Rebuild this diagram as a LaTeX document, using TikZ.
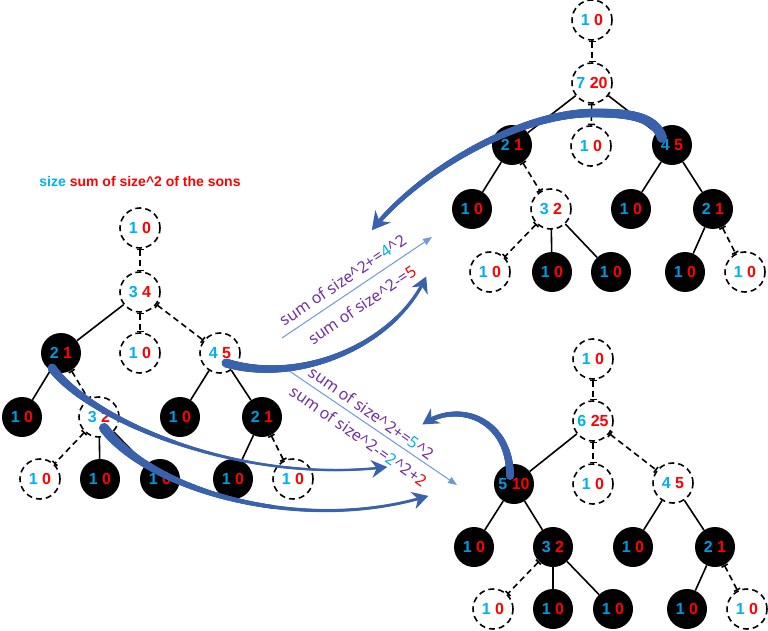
\documentclass[tikz,border=0pt]{standalone}
\usepackage{fontspec}
\setmainfont{Noto Sans}
\newfontfamily\nf{Liberation Sans}
\usetikzlibrary{arrows.meta,decorations.markings}
\definecolor{cy}{HTML}{00B0F0}
\definecolor{cyd}{HTML}{0099DD}
\definecolor{rd}{HTML}{FF0000}
\definecolor{pu}{HTML}{7030A0}
\definecolor{ab}{HTML}{3A62AC}
\definecolor{lb}{HTML}{7099DA}
\newcommand\wt[2]{\textcolor{cy}{#1} \textcolor{rd}{#2}}
\newcommand\bt[2]{\textcolor{cyd}{#1} \textcolor{rd}{#2}}
\newcommand\crt{\textasciicircum}
\tikzset{
  nfont/.style={font=\nf\fontsize{16}{18}\selectfont\bfseries},
  wn/.style={circle,draw=black,line width=1.6pt,dash pattern=on 6pt off 4pt,fill=white,minimum size=40pt,inner sep=0pt,nfont},
  bn/.style={circle,fill=black,minimum size=40pt,inner sep=0pt,nfont},
  se/.style={draw=black,line width=1.6pt},
  de/.style={draw=black,line width=1.6pt,dash pattern=on 6pt off 4pt,{Bar[width=7pt]}-{Bar[width=7pt]}},
  lbl/.style={text=pu,font=\fontsize{16}{18}\selectfont,inner sep=0pt},
  thinarr/.style={draw=lb,line width=1pt,-{Triangle[length=9pt,width=7pt]}},
  taper/.style n args={5}{postaction={decorate,decoration={markings,
    mark=between positions 0 and -8pt step 0.6pt with {%
      \pgfmathsetmacro\tr{#2+(#1-#2)*(1-\pgfkeysvalueof{/pgf/decoration/mark info/distance from start}/\pgfdecoratedpathlength)^#5}%
      \fill[ab] (0,0) circle[radius=\tr pt];}}},
    postaction={decorate,decoration={markings,
    mark=at position 0.998 with {%
      \fill[ab] (1pt,0pt) -- (-#3pt,#4pt) -- (-0.65*#3pt,0pt) -- (-#3pt,-#4pt) -- cycle;}}}}
}
\begin{document}
\begin{tikzpicture}[x=1pt,y=-1pt]
\useasboundingbox (0,0) rectangle (768,631);
% title
\node[font=\nf\fontsize{14}{16}\selectfont\bfseries] (title) at (140,181) {\textcolor{cy}{size} \textcolor{rd}{sum of size\crt2 of the sons}};
% left tree
\node[wn] (L0) at (140,228) {\wt{1}{0}};
\node[wn] (L1) at (140,292) {\wt{3}{4}};
\node[bn] (L2) at (61,353) {\bt{2}{1}};
\node[wn] (L3) at (140,353) {\wt{1}{0}};
\node[wn] (L4) at (220,353) {\wt{4}{5}};
\node[bn] (L5) at (22,417) {\bt{1}{0}};
\node[wn] (L6) at (99,417) {\wt{3}{2}};
\node[bn] (L7) at (180,417) {\bt{1}{0}};
\node[bn] (L8) at (262,417) {\bt{2}{1}};
\node[wn] (L9) at (40,479) {\wt{1}{0}};
\node[bn] (L10) at (100,479) {\bt{1}{0}};
\node[bn] (L11) at (160,479) {\bt{1}{0}};
\node[bn] (L12) at (233,479) {\bt{1}{0}};
\node[wn] (L13) at (293,479) {\wt{1}{0}};
\draw[de] (L0) -- (L1);
\draw[se] (L1) -- (L2);
\draw[de] (L1) -- (L3);
\draw[de] (L1) -- (L4);
\draw[se] (L2) -- (L5);
\draw[de] (L2) -- (L6);
\draw[se] (L4) -- (L7);
\draw[se] (L4) -- (L8);
\draw[de] (L6) -- (L9);
\draw[se] (L6) -- (L10);
\draw[se] (L6) -- (L11);
\draw[se] (L8) -- (L12);
\draw[de] (L8) -- (L13);
% top tree
\node[wn] (T0) at (592,20) {\wt{1}{0}};
\node[wn] (T1) at (592,83) {\wt{7}{20}};
\node[bn] (T2) at (512,145) {\bt{2}{1}};
\node[wn] (T3) at (591,146) {\wt{1}{0}};
\node[bn] (T4) at (672,145) {\bt{4}{5}};
\node[bn] (T5) at (472,209) {\bt{1}{0}};
\node[wn] (T6) at (551,209) {\wt{3}{2}};
\node[bn] (T7) at (631,209) {\bt{1}{0}};
\node[bn] (T8) at (713,209) {\bt{2}{1}};
\node[wn] (T9) at (490,272) {\wt{1}{0}};
\node[bn] (T10) at (552,272) {\bt{1}{0}};
\node[bn] (T11) at (611,272) {\bt{1}{0}};
\node[bn] (T12) at (685,272) {\bt{1}{0}};
\node[wn] (T13) at (745,272) {\wt{1}{0}};
\draw[de] (T0) -- (T1);
\draw[se] (T1) -- (T2);
\draw[de] (T1) -- (T3);
\draw[se] (T1) -- (T4);
\draw[se] (T2) -- (T5);
\draw[de] (T2) -- (T6);
\draw[se] (T4) -- (T7);
\draw[se] (T4) -- (T8);
\draw[de] (T6) -- (T9);
\draw[se] (T6) -- (T10);
\draw[se] (T6) -- (T11);
\draw[se] (T8) -- (T12);
\draw[de] (T8) -- (T13);
% bottom tree
\node[wn] (B0) at (593,359) {\wt{1}{0}};
\node[wn] (B1) at (593,421) {\wt{6}{25}};
\node[bn] (B2) at (514,484) {\bt{5}{10}};
\node[wn] (B3) at (593,484) {\wt{1}{0}};
\node[wn] (B4) at (673,483) {\wt{4}{5}};
\node[bn] (B5) at (474,547) {\bt{1}{0}};
\node[bn] (B6) at (553,547) {\bt{3}{2}};
\node[bn] (B7) at (633,547) {\bt{1}{0}};
\node[bn] (B8) at (715,547) {\bt{2}{1}};
\node[wn] (B9) at (493,609) {\wt{1}{0}};
\node[bn] (B10) at (553,609) {\bt{1}{0}};
\node[bn] (B11) at (613,609) {\bt{1}{0}};
\node[bn] (B12) at (687,609) {\bt{1}{0}};
\node[wn] (B13) at (747,609) {\wt{1}{0}};
\draw[de] (B0) -- (B1);
\draw[se] (B1) -- (B2);
\draw[de] (B1) -- (B3);
\draw[de] (B1) -- (B4);
\draw[se] (B2) -- (B5);
\draw[se] (B2) -- (B6);
\draw[se] (B4) -- (B7);
\draw[se] (B4) -- (B8);
\draw[de] (B6) -- (B9);
\draw[se] (B6) -- (B10);
\draw[se] (B6) -- (B11);
\draw[se] (B8) -- (B12);
\draw[de] (B8) -- (B13);
% thin arrows
\coordinate (l1a) at (282,338);
\coordinate (l1b) at (432,237);
\coordinate (l2a) at (282,366);
\coordinate (l2b) at (457,485);
\draw[thinarr] (l1a) -- (l1b);
\draw[thinarr] (l2a) -- (l2b);
% labels
\node[lbl,rotate=34] (t1) at (343,280) {sum of size\crt2+=\textcolor{cy}{4}\crt2};
\node[lbl,rotate=34] (t2) at (362,305) {sum of size\crt2-=\textcolor{rd}{5}};
\node[lbl,rotate=-35] (t3) at (372,413) {sum of size\crt2+=\textcolor{cy}{5}\crt2};
\node[lbl,rotate=-35] (t4) at (359,436) {sum of size\crt2-=\textcolor{cy}{2}\crt2+\textcolor{rd}{2}};
% thick curved arrows
\coordinate (a1s) at (662,138);
\coordinate (a1m) at (593,113);
\coordinate (a1e) at (372,230);
\path[taper={5}{2}{17}{10}{1}] (a1s) .. controls (655,115) and (625,113) .. (a1m) .. controls (520,113) and (420,170) .. (a1e);
\coordinate (a2s) at (226,363);
\coordinate (a2e) at (426,277);
\path[taper={4.5}{1.7}{15}{9}{1.5}] (a2s) .. controls (300,385) and (395,345) .. (a2e);
\coordinate (a3s) at (52,368);
\coordinate (a3e) at (387,467);
\path[taper={4.5}{1.3}{15}{9}{3}] (a3s) .. controls (90,420) and (240,485) .. (a3e);
\coordinate (a4s) at (104,428);
\coordinate (a4e) at (428,496);
\path[taper={5}{1.5}{15}{9}{2.5}] (a4s) .. controls (150,490) and (300,535) .. (a4e);
\coordinate (a5s) at (510,476);
\coordinate (a5e) at (423,424);
\path[taper={4}{2}{15}{9}{1}] (a5s) .. controls (510,420) and (460,400) .. (a5e);
\end{tikzpicture}
\end{document}
